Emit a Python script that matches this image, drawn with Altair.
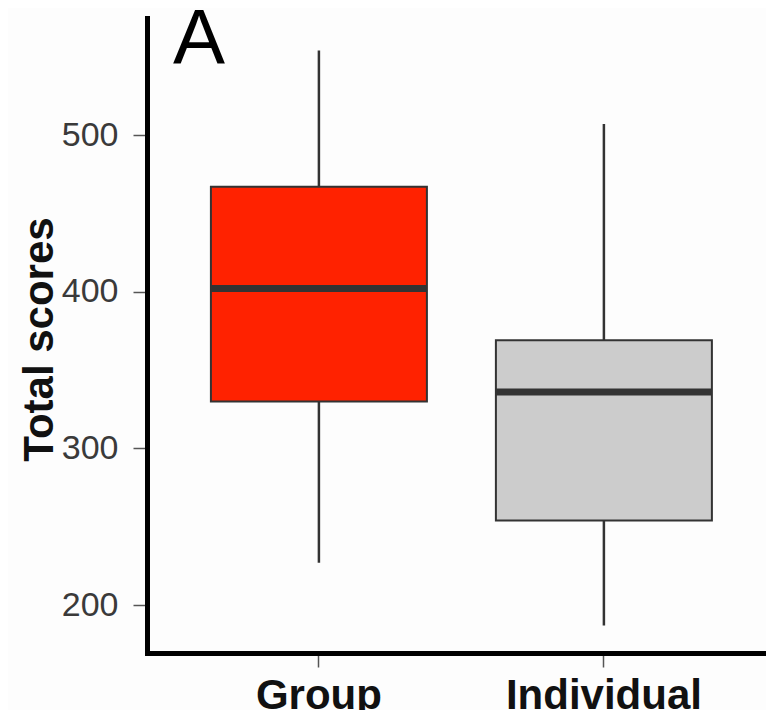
import altair as alt
import pandas as pd

categories = ["Group", "Individual"]
lower_whisker = [227, 187]
q1 = [330, 254]
median = [402, 336]
q3 = [467, 369]
upper_whisker = [554, 507]
fill_colors = ["#ff2200", "#cccccc"]

df = pd.DataFrame({
    "cat": categories,
    "lo": lower_whisker,
    "q1": q1,
    "med": median,
    "q3": q3,
    "hi": upper_whisker,
})

FONT = "Liberation Sans"

x_enc = alt.X(
    "cat:N",
    sort=categories,
    scale=alt.Scale(paddingInner=0, paddingOuter=0.086, align=0.6),
    axis=alt.Axis(
        title=None,
        labelAngle=0,
        labelFontSize=42,
        labelFontWeight="bold",
        labelColor="#111111",
        labelFont=FONT,
        labelBaseline="alphabetic",
        labelPadding=41,
        labelLimit=1000,
        tickSize=14,
        tickWidth=1.5,
        tickColor="#555555",
        domainColor="#000000",
        domainWidth=5,
        domainCap="square",
    ),
)

y_scale = alt.Scale(domain=[169.4, 574.7], nice=False, zero=False)
y_axis = alt.Axis(
    title="Total scores",
    values=[200, 300, 400, 500],
    grid=False,
    labelFontSize=34,
    labelColor="#3a3a3a",
    labelFont=FONT,
    labelPadding=15,
    tickSize=14,
    tickWidth=1.5,
    tickColor="#555555",
    domainColor="#000000",
    domainWidth=5,
    domainCap="square",
    titleFontSize=42,
    titleFontWeight="bold",
    titleFont=FONT,
    titleColor="#111111",
    titleAngle=270,
    titleAlign="center",
    titleBaseline="alphabetic",
    titleX=-95,
    titleY=321,
)

base = alt.Chart(df)

whiskers = base.mark_rule(color="#333333", strokeWidth=2.5).encode(
    x=x_enc,
    y=alt.Y("lo:Q", scale=y_scale, axis=y_axis),
    y2="hi:Q",
)

boxes = base.mark_bar(size=216, stroke="#333333", strokeWidth=2).encode(
    x=alt.X("cat:N", sort=categories),
    y="q1:Q",
    y2="q3:Q",
    color=alt.Color("cat:N", scale=alt.Scale(domain=categories, range=fill_colors), legend=None),
)

medians = base.mark_tick(size=216, thickness=7, color="#333333", opacity=1).encode(
    x=alt.X("cat:N", sort=categories),
    y="med:Q",
)

panel = alt.Chart(pd.DataFrame({"t": ["A"]})).mark_text(
    fontSize=78, font=FONT, color="#000000", align="left", baseline="alphabetic"
).encode(x=alt.value(26), y=alt.value(46), text="t:N")

chart = (
    alt.layer(whiskers, boxes, medians, panel)
    .properties(
        width=619,
        height=635,
        autosize=alt.AutoSizeParams(type="none"),
        padding={"left": 139, "top": 10, "right": 0, "bottom": 57},
        background="#fdfdfd",
    )
    .configure_view(stroke=None)
)

chart.save("out.html", embed_options={"renderer": "svg", "actions": False})
